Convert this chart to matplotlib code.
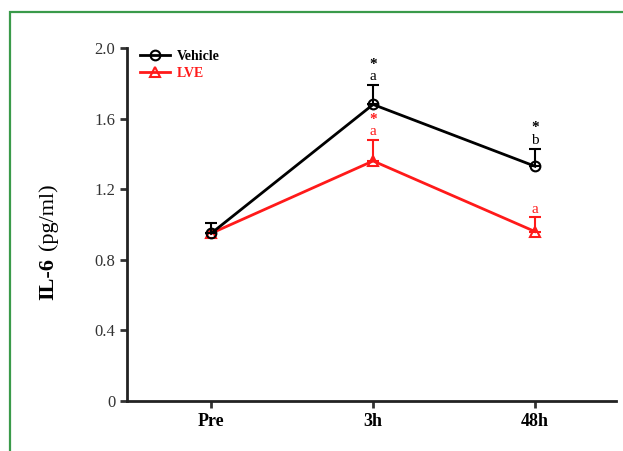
import matplotlib.pyplot as plt
from matplotlib.lines import Line2D

plt.rcParams['font.family'] = ['Liberation Serif', 'DejaVu Serif']

# data
timepoints = ['Pre', '3h', '48h']
vehicle = [0.95, 1.68, 1.33]
vehicle_err = [0.06, 0.11, 0.10]
lve = [0.95, 1.36, 0.96]
lve_err = [0.0, 0.12, 0.08]
vehicle_marks = ['', 'a', 'b']
lve_marks = ['', 'a', 'a']
vehicle_star = [False, True, True]
lve_star = [False, True, False]

red = '#ff1a1a'

fig = plt.figure(figsize=(6.23, 4.51), dpi=100)
# green frame around the panel
fig.patches.append(plt.Rectangle((10 / 623, -0.1), 1.2, 1 - 12 / 451 + 0.1,
                                 transform=fig.transFigure, fill=False,
                                 edgecolor='#3a9a4a', linewidth=1.6))
ax = fig.add_axes([127 / 623, 50 / 451, (616 - 127) / 623, (401 - 48) / 451])

x = range(len(timepoints))

ax.errorbar(x, vehicle, yerr=[[0] * 3, vehicle_err], color='black', lw=2,
            marker='o', markersize=7, markerfacecolor='none', markeredgewidth=1.5,
            capsize=4, elinewidth=1.5, capthick=1.5, zorder=3)
ax.errorbar(x, lve, yerr=[[0] * 3, lve_err], color=red, lw=2,
            marker='^', markersize=7, markerfacecolor='none', markeredgewidth=1.5,
            capsize=4, elinewidth=1.5, capthick=1.5, zorder=2)

# significance letters and stars
for i in x:
    top = vehicle[i] + vehicle_err[i]
    if vehicle_marks[i]:
        ax.text(i, top + 0.01, vehicle_marks[i], ha='center', va='bottom',
                fontsize=11, color='black')
    if vehicle_star[i]:
        ax.text(i, top + 0.08, '*', ha='center', va='bottom', fontsize=11,
                color='black', fontweight='bold')
    top = lve[i] + lve_err[i]
    if lve_marks[i]:
        ax.text(i, top + 0.01, lve_marks[i], ha='center', va='bottom',
                fontsize=11, color=red)
    if lve_star[i]:
        ax.text(i, top + 0.08, '*', ha='center', va='bottom', fontsize=11,
                color=red, fontweight='bold')

ax.set_xlim(-0.52, 2.5)
ax.set_ylim(0, 2.0)
ax.set_yticks([0, 0.4, 0.8, 1.2, 1.6, 2.0])
ax.set_yticklabels(['0', '0.4', '0.8', '1.2', '1.6', '2.0'], fontsize=12,
                   color='#333333')
ax.set_xticks(list(x))
ax.set_xticklabels(timepoints, fontsize=13, fontweight='bold')

for s in ['top', 'right']:
    ax.spines[s].set_visible(False)
for s in ['left', 'bottom']:
    ax.spines[s].set_linewidth(2)
    ax.spines[s].set_color('#222222')
ax.tick_params(width=2, length=5, color='#333333')

# y label: bold "IL-6" + regular "(pg/ml)"
fig.text(48 / 623, 1 - 279 / 451, 'IL-6', rotation=90, ha='center', va='center',
         fontsize=16, fontweight='bold')
fig.text(48 / 623, 1 - 217 / 451, '(pg/ml)', rotation=90, ha='center', va='center',
         fontsize=16)

handles = [
    Line2D([], [], color='black', lw=2, marker='o', markersize=7,
           markerfacecolor='none', markeredgewidth=1.5),
    Line2D([], [], color=red, lw=2, marker='^', markersize=7,
           markerfacecolor='none', markeredgewidth=1.5),
]
leg = ax.legend(handles, ['Vehicle', 'LVE'], loc='upper left',
                bbox_to_anchor=(0.0, 1.03), frameon=False,
                prop={'size': 10, 'weight': 'bold'}, handlelength=2.2,
                handletextpad=0.5, labelspacing=0.3)
leg.get_texts()[1].set_color(red)

fig.savefig('out.png', dpi=100)
